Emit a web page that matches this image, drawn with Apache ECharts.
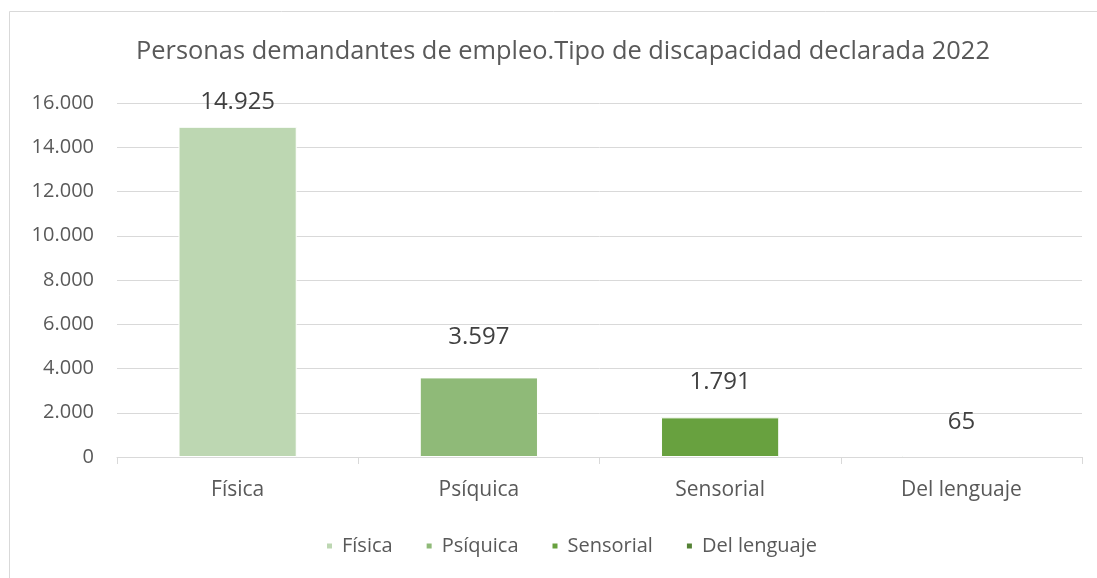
<!DOCTYPE html>
<html><head><meta charset="utf-8">
<script src="https://cdn.jsdelivr.net/npm/echarts@6/dist/echarts.min.js"></script>
<style>html,body{margin:0;padding:0;background:#fff}#c{width:1097px;height:578px}</style>
</head><body><div id="c"></div>
<script>
const categories = ['Física', 'Psíquica', 'Sensorial', 'Del lenguaje'];
const values = [14925, 3597, 1791, 65];
const yTicks = [0, 2000, 4000, 6000, 8000, 10000, 12000, 14000, 16000];
const colors = ['#bdd7b2', '#8fba78', '#68a13f', '#548235'];
const labelGaps = [13, 28, 23, 21];
const font = 'Open Sans';
function fmt(v){ return String(v).replace(/\B(?=(\d{3})+(?!\d))/g, '.'); }
const chart = echarts.init(document.getElementById('c'), null, {renderer:'canvas'});
const series = categories.map((name, i) => ({
  name: name, type: 'bar', stack: 'all', barWidth: '49%',
  data: categories.map((c, j) => j === i ? values[i] : '-'),
  itemStyle: {color: colors[i], borderColor: '#ffffff', borderWidth: 1},
  label: {show: true, position: 'top', distance: labelGaps[i], formatter: p => fmt(p.value),
    fontFamily: font, fontSize: 24, color: '#404040'}
}));
chart.setOption({
  animation: false,
  graphic: [{type:'rect', shape:{x:9.5,y:11.5,width:1200,height:700}, style:{fill:'none', stroke:'#d9d9d9', lineWidth:1}, silent:true}],
  title: {text: 'Personas demandantes de empleo.Tipo de discapacidad declarada 2022', left: 131, top: 34,
    textStyle: {fontFamily: font, fontSize: 25.4, fontWeight: 'normal', color: '#595959'}},
  legend: {bottom: 17, left: 320, itemWidth: 7, itemHeight: 7, itemGap: 32, icon: 'rect',
    textStyle: {fontFamily: font, fontSize: 20, color: '#595959', padding: [0, 0, 0, 4]}, data: categories},
  grid: {left: 117, right: 15, top: 103, bottom: 121, containLabel: false},
  xAxis: {type: 'category', data: categories,
    axisLine: {lineStyle: {color: '#d9d9d9'}}, axisTick: {show: true, length: 7, lineStyle: {color: '#d9d9d9'}},
    axisLabel: {fontFamily: font, fontSize: 21, color: '#595959', margin: 23}},
  yAxis: {type: 'value', min: 0, max: 16000, interval: 2000,
    axisLine: {show: false}, axisTick: {show: false},
    splitLine: {lineStyle: {color: '#d9d9d9'}},
    axisLabel: {fontFamily: font, fontSize: 20, color: '#595959', margin: 23, formatter: v => fmt(v)}},
  series: series
});
</script></body></html>
